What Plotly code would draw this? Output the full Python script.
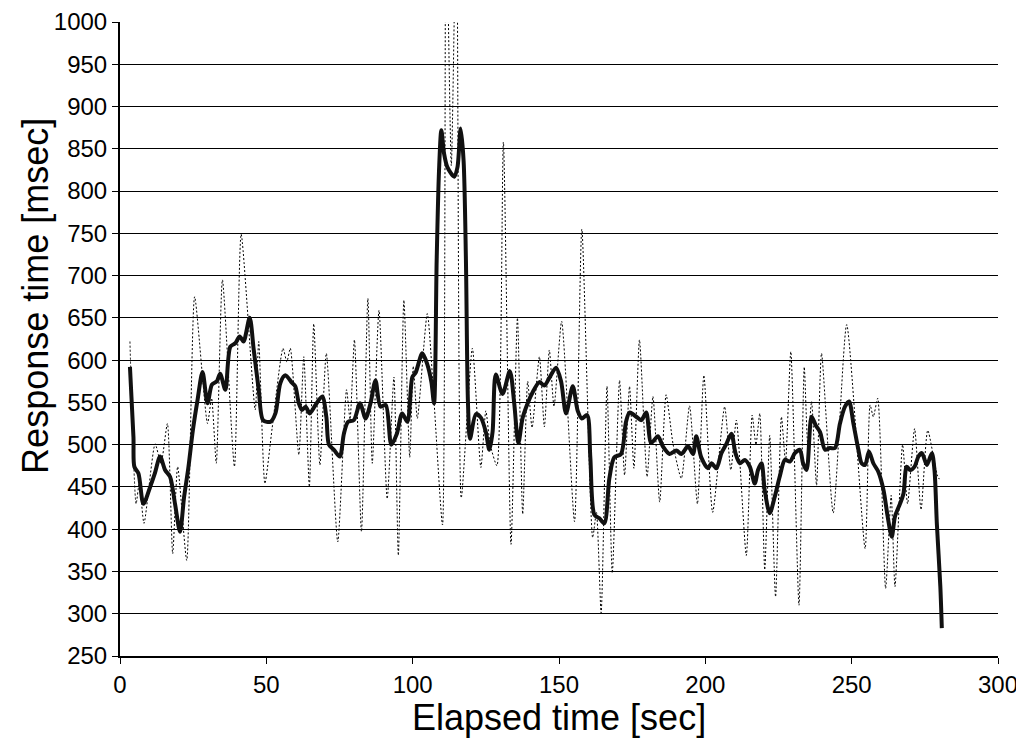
import plotly.graph_objects as go

# Raw response time (thin dotted line) - local extrema
raw_t = [3.4, 5.5, 6.6, 8.2, 12.0, 14.0, 16.2, 18.0, 19.7, 22.8, 25.5, 29.9, 31.3, 32.9, 35.0,
         39.1, 41.4, 46.2, 47.4, 49.5, 52.0, 55.7, 57.0, 58.2, 61.1, 62.8, 64.7, 66.2, 68.3,
         70.5, 74.4, 77.4, 78.6, 80.1, 82.5, 84.7, 86.2, 88.5, 91.3, 93.6, 95.1, 97.0, 99.0,
         100.2, 101.6, 105.0, 107.3, 110.2, 111.4, 113.2, 115.0, 116.6, 120.4, 123.3, 125.0,
         126.5, 128.8, 131.0, 133.6, 135.8, 137.6, 139.3, 140.8, 143.3, 145.0, 146.7, 148.3,
         150.9, 155.3, 157.8, 161.5, 162.8, 164.4, 166.4, 168.2, 170.7, 172.4, 174.1, 175.6,
         177.5, 180.1, 182.1, 184.4, 186.6, 189.0, 191.8, 194.6, 197.3, 199.5, 202.5, 206.6,
         208.7, 210.6, 214.0, 216.0, 217.3, 218.6, 220.3, 222.0, 224.0, 226.0, 227.4, 229.2,
         232.0, 233.8, 235.0, 236.3, 238.0, 239.7, 243.7, 248.3, 254.6, 256.3, 257.4, 258.9,
         261.6, 263.5, 264.8, 267.4, 269.1, 271.5, 273.7, 276.0, 279.7, 280.8]
raw_ms = [622, 430, 455, 407, 501, 478, 525, 371, 474, 363, 675, 525, 555, 478, 695,
          474, 749, 541, 622, 454, 520, 614, 598, 614, 488, 604, 450, 643, 476,
          608, 385, 565, 530, 624, 397, 673, 478, 659, 436, 580, 369, 671, 485,
          593, 531, 655, 551, 405, 1150, 830, 1150, 437, 614, 473, 540,
          500, 475, 858, 382, 650, 418, 575, 520, 604, 521, 612, 545,
          646, 409, 755, 390, 420, 301, 569, 348, 576, 464, 569, 472,
          624, 462, 557, 432, 559, 500, 460, 546, 430, 582, 420, 545,
          470, 529, 369, 535, 500, 537, 352, 511, 320, 533, 480, 610,
          310, 592, 500, 551, 452, 608, 419, 642, 377, 547, 533, 555,
          330, 440, 332, 500, 430, 519, 423, 517, 460, 460]

# Moving average (thick line)
avg_t = [3.4, 4.6, 4.9, 6.3, 8.0, 10.3, 11.9, 13.7, 15.4, 17.1, 18.8, 20.5, 21.9, 23.4, 24.9,
         26.5, 28.2, 29.9, 31.4, 33.1, 34.2, 36.0, 37.7, 39.4, 40.9, 42.2, 44.3, 45.7, 47.4,
         48.9, 51.4, 53.1, 54.8, 56.5, 58.8, 59.9, 61.1, 62.2, 63.4, 64.8, 66.8, 69.1, 70.5,
         71.4, 73.1, 75.1, 76.5, 77.9, 79.9, 82.0, 83.9, 85.6, 87.3, 89.0, 90.8, 92.7, 94.6,
         96.4, 98.2, 99.9, 101.0, 103.3, 105.0, 106.4, 107.3, 108.2, 109.0, 109.8, 110.7,
         111.9, 114.2, 115.3, 116.4, 117.4, 118.2, 118.9, 119.6, 121.6, 123.3, 125.0, 126.2,
         127.3, 128.4, 130.7, 133.2, 134.7, 136.1, 137.6, 139.3, 141.0, 143.3, 145.0, 146.7,
         149.0, 150.7, 152.4, 154.7, 156.4, 157.8, 159.6, 160.7, 162.1, 163.8, 165.5, 167.2,
         168.9, 171.2, 172.9, 174.1, 176.4, 178.1, 179.8, 181.5, 183.8, 185.5, 187.8, 190.1,
         191.8, 194.1, 195.8, 196.9, 198.6, 200.9, 202.1, 203.8, 205.5, 207.2, 208.9, 210.3,
         211.8, 213.5, 215.2, 216.9, 218.0, 219.2, 220.3, 222.0, 223.7, 225.4, 227.2, 228.9,
         230.6, 232.3, 233.4, 234.6, 236.3, 237.7, 239.2, 240.9, 242.6, 244.3, 246.0, 247.7,
         249.1, 250.6, 252.3, 253.4, 254.6, 255.9, 257.4, 259.1, 260.9, 262.3, 263.7, 264.8,
         266.5, 267.7, 268.8, 270.0, 271.5, 272.8, 274.0, 275.7, 277.4, 278.3, 279.1, 280.3, 280.8]
avg_ms = [592, 509, 474, 466, 430, 450, 466, 486, 470, 462, 430, 397, 438, 474, 517,
          553, 586, 549, 571, 575, 584, 565, 616, 620, 628, 622, 650, 612, 565,
          529, 527, 537, 573, 582, 573, 569, 549, 541, 545, 537, 547, 557, 533,
          500, 494, 486, 513, 527, 529, 549, 531, 549, 576, 545, 547, 500, 513,
          537, 527, 580, 585, 608, 595, 574, 549, 718, 824, 872, 845,
          828, 817, 828, 874, 836, 718, 549, 507, 536, 532, 515, 494,
          515, 583, 560, 587, 549, 502, 532, 549, 562, 574, 570, 579,
          591, 575, 537, 569, 540, 531, 535, 485, 417, 413, 407, 460,
          485, 489, 527, 538, 533, 529, 538, 502, 510, 498, 489, 493,
          489, 498, 489, 510, 485, 472, 478, 472, 490, 501, 513, 490,
          478, 482, 474, 454, 470, 478, 446, 419, 438, 462, 482, 480,
          490, 494, 478, 470, 533, 523, 515, 494, 496, 496, 525, 545,
          551, 525, 494, 478, 476, 492, 478, 468, 446, 415, 391, 415,
          430, 442, 474, 470, 474, 486, 490, 476, 490, 470, 407, 332, 283]

x_ticks = [0, 50, 100, 150, 200, 250, 300]
y_ticks = list(range(250, 1001, 50))

FONT = "Liberation Sans, Arial, sans-serif"

fig = go.Figure()
fig.add_trace(go.Scatter(
    x=raw_t, y=raw_ms, mode="lines",
    line=dict(color="#000000", width=1, dash="2px,2px", shape="spline", smoothing=0.6),
    showlegend=False, hoverinfo="skip"))
fig.add_trace(go.Scatter(
    x=avg_t, y=avg_ms, mode="lines",
    line=dict(color="#111111", width=4, shape="spline", smoothing=0.8),
    showlegend=False))

fig.update_layout(
    width=1016, height=730,
    margin=dict(l=112, r=26, t=14, b=82, autoexpand=False),
    paper_bgcolor="white", plot_bgcolor="white",
    font=dict(family=FONT, color="black", size=24),
    xaxis=dict(
        range=[0, 300], tickvals=x_ticks, ticktext=[str(v) for v in x_ticks],
        showgrid=False, zeroline=False, automargin=False,
        showline=True, linecolor="black", linewidth=2,
        ticks="outside", ticklen=6, tickcolor="black", tickwidth=1,
        tickfont=dict(family=FONT, size=24),
    ),
    yaxis=dict(
        range=[250, 1000], tickvals=y_ticks, ticktext=[str(v) for v in y_ticks],
        showgrid=True, gridcolor="black", gridwidth=1, zeroline=False, automargin=False,
        showline=True, linecolor="black", linewidth=2,
        ticks="outside", ticklen=6, tickcolor="black", tickwidth=1,
        tickfont=dict(family=FONT, size=24),
    ),
    annotations=[
        dict(text="Response time [msec]", textangle=-90,
             xref="paper", yref="paper", x=0, y=0.568,
             xanchor="center", yanchor="middle", xshift=-84,
             showarrow=False, font=dict(family=FONT, size=36, color="black")),
        dict(text="Elapsed time [sec]",
             xref="paper", yref="paper", x=0.5, y=0,
             xanchor="center", yanchor="middle", yshift=-61,
             showarrow=False, font=dict(family=FONT, size=36, color="black")),
    ],
)

fig.write_html("out.html")
